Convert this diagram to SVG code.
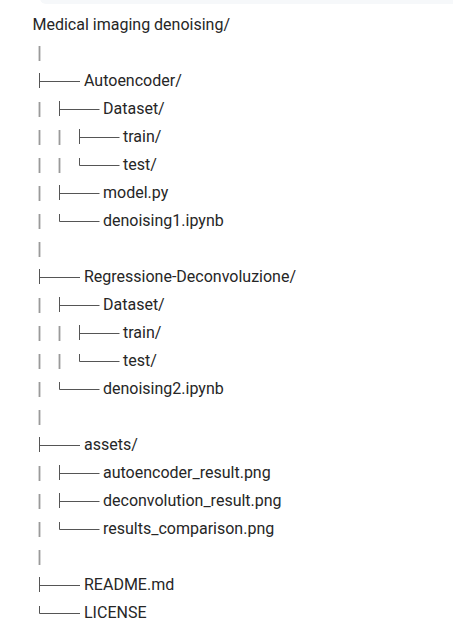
<svg xmlns="http://www.w3.org/2000/svg" width="453" height="625" viewBox="0 0 453 625">
<style>
  text { font-family: Roboto, "Liberation Sans", sans-serif; font-size: 16px; fill: #262626; }
  .bar { stroke: #9a9a9a; stroke-width: 1.8; fill: none; }
  .br { stroke: #555555; stroke-width: 1; fill: none; }
</style>
<rect x="0" y="0" width="453" height="625" fill="#ffffff"/>
<rect x="40" y="-8" width="430" height="12" rx="6" fill="#f6f8fa"/>
<g id="connectors">
  <path class="bar" d="M39.5 46V61 M39.5 102V117 M39.5 130V145 M59.5 130V145 M39.5 158V173 M59.5 158V173 M39.5 186V201 M39.5 214V229 M39.5 242V257 M39.5 298V313 M39.5 326V341 M59.5 326V341 M39.5 354V369 M59.5 354V369 M39.5 382V397 M39.5 410V425 M39.5 466V481 M39.5 494V509 M39.5 522V537 M39.5 550V565"/>
  <path class="br" d="M39.5 73V88 M39.5 81.5H80"/>
  <path class="br" d="M59.5 101V116 M59.5 109.5H99.5"/>
  <path class="br" d="M79.5 129V144 M79.5 137.5H119.5"/>
  <path class="br" d="M79.5 158V165.5H119.5"/>
  <path class="br" d="M59.5 185V200 M59.5 193.5H99.5"/>
  <path class="br" d="M59.5 214V221.5H99.5"/>
  <path class="br" d="M39.5 269V284 M39.5 277.5H80"/>
  <path class="br" d="M59.5 297V312 M59.5 305.5H99.5"/>
  <path class="br" d="M79.5 325V340 M79.5 333.5H119.5"/>
  <path class="br" d="M79.5 354V361.5H119.5"/>
  <path class="br" d="M59.5 382V389.5H99.5"/>
  <path class="br" d="M39.5 437V452 M39.5 445.5H80"/>
  <path class="br" d="M59.5 465V480 M59.5 473.5H99.5"/>
  <path class="br" d="M59.5 493V508 M59.5 501.5H99.5"/>
  <path class="br" d="M59.5 522V529.5H99.5"/>
  <path class="br" d="M39.5 577V592 M39.5 585.5H80"/>
  <path class="br" d="M39.5 606V613.5H80"/>
</g>
<g id="root"><text x="32.5" y="30">Medical imaging denoising/</text></g>
<g id="autoencoder"><text x="84" y="86">Autoencoder/</text></g>
<g id="ae-dataset"><text x="103" y="114">Dataset/</text></g>
<g id="ae-train"><text x="123" y="142">train/</text></g>
<g id="ae-test"><text x="123" y="170">test/</text></g>
<g id="ae-model"><text x="103" y="198">model.py</text></g>
<g id="ae-notebook"><text x="103" y="226">denoising1.ipynb</text></g>
<g id="regression"><text x="84" y="282">Regressione-Deconvoluzione/</text></g>
<g id="rd-dataset"><text x="103" y="310">Dataset/</text></g>
<g id="rd-train"><text x="123" y="338">train/</text></g>
<g id="rd-test"><text x="123" y="366">test/</text></g>
<g id="rd-notebook"><text x="103" y="394">denoising2.ipynb</text></g>
<g id="assets"><text x="84" y="450">assets/</text></g>
<g id="as-autoencoder"><text x="103" y="478">autoencoder_result.png</text></g>
<g id="as-deconvolution"><text x="103" y="506">deconvolution_result.png</text></g>
<g id="as-comparison"><text x="103" y="534">results_comparison.png</text></g>
<g id="readme"><text x="84" y="590">README.md</text></g>
<g id="license"><text x="84" y="618">LICENSE</text></g>
</svg>
